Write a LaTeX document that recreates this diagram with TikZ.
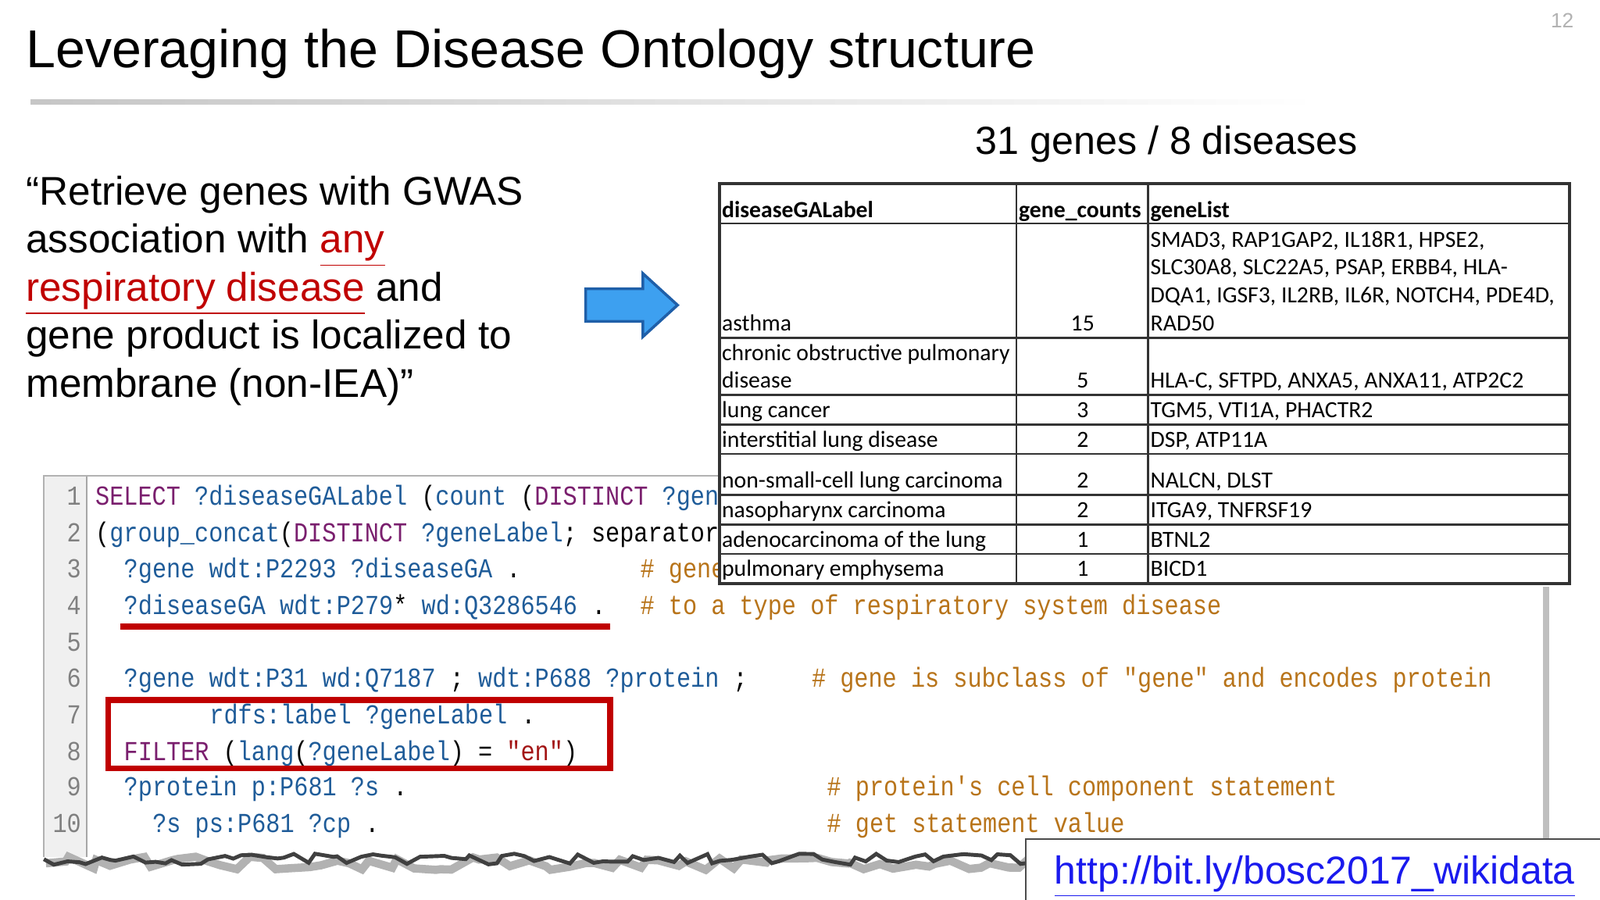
\documentclass[tikz,border=0pt]{standalone}
\usepackage{fontspec}
\setmainfont{Liberation Sans}
\newfontfamily\cdfont[FakeStretch=0.86]{Liberation Mono}
\newfontfamily\tbfont{Carlito}
\usetikzlibrary{decorations.pathmorphing}
\definecolor{kw}{HTML}{7A1F6E}
\definecolor{vr}{HTML}{1F5C99}
\definecolor{cm}{HTML}{B8741A}
\definecolor{st}{HTML}{A31515}
\definecolor{rd}{HTML}{C00000}
\definecolor{url}{HTML}{1A1AEE}
\definecolor{arrf}{HTML}{3DA0F0}
\definecolor{arrd}{HTML}{1F5FA8}
\newcommand{\K}[1]{\textcolor{kw}{#1}}
\newcommand{\V}[1]{\textcolor{vr}{#1}}
\newcommand{\C}[1]{\textcolor{cm}{#1}}
\tikzset{
  x=0.01306cm, y=-0.01306cm,
  quote/.style={anchor=base west, inner sep=0, font=\fontsize{14.6}{18}\selectfont},
  code/.style={anchor=base west, inner sep=0, font=\cdfont\fontsize{10}{12}\selectfont, text=vr},
  lnum/.style={anchor=base east, inner sep=0, font=\cdfont\fontsize{10}{12}\selectfont, text=gray},
  cell/.style={anchor=base west, inner sep=0, font=\tbfont\fontsize{8.45}{10}\selectfont},
  num/.style={anchor=base, inner sep=0, font=\tbfont\fontsize{8.45}{10}\selectfont},
  tline/.style={line width=0.7pt, black!80},
}
\begin{document}
\begin{tikzpicture}
\useasboundingbox (0,0) rectangle (1568,882);
\fill[white] (0,0) rectangle (1568,882);
% title
\node[anchor=base west, inner sep=0, font=\fontsize{19.4}{23}\selectfont] (title) at (25,66) {Leveraging the Disease Ontology structure};
\shade[left color=gray!45, right color=white] (30,98) rectangle (1290,102);
\node[anchor=base, inner sep=0, font=\fontsize{7.5}{9}\selectfont, text=gray!60] (pg) at (1531,27) {12};
\node[anchor=base, inner sep=0, font=\fontsize{14.3}{17}\selectfont] (sub) at (1143,151) {31 genes / 8 diseases};
% quote
\node[quote] (q1) at (25,201) {“Retrieve genes with GWAS};
\node[quote] (q2) at (25,248) {association with \textcolor{rd}{\underline{any}}};
\node[quote] (q3) at (25,295) {\textcolor{rd}{\underline{respiratory disease}} and};
\node[quote] (q4) at (25,342) {gene product is localized to};
\node[quote] (q5) at (25,389) {membrane (non-IEA)”};
% arrow
\draw[arrd, line width=1pt, fill=arrf] (574,283)--(630,283)--(630,268)--(664,299)--(630,330)--(630,315)--(574,315)--cycle;
% code box
\fill[gray!50] (1512,575) rectangle (1518,822);
\fill[white] (43,466) rectangle (1512,840);
\fill[gray!12] (44,467) rectangle (85,840);
\draw[gray!60, line width=0.6pt] (43,840)--(43,466)--(1512,466);
\draw[gray!70, line width=0.6pt] (85,467)--(85,840);
\foreach \n/\yy in {1/495,2/531,3/566,4/602,5/638,6/673,7/709,8/745,9/780,10/816}{
  \node[lnum] (ln\n) at (80,\yy) {\n};
}
\node[code] (c1) at (93,495) {\K{SELECT} ?diseaseGALabel \textcolor{black}{(}count \textcolor{black}{(}\K{DISTINCT} ?gene};
\node[code] (c2) at (93,531) {\textcolor{black}{(}group\_concat\textcolor{black}{(}\K{DISTINCT} ?geneLabel\textcolor{black}{; separator}};
\node[code] (c3) at (121,566) {?gene wdt:P2293 ?diseaseGA \textcolor{black}{.}};
\node[code] (c3c) at (627,566) {\C{\# gene}};
\node[code] (c4) at (121,602) {?diseaseGA wdt:P279\textcolor{black}{*} wd:Q3286546 \textcolor{black}{.}};
\node[code] (c4c) at (627,602) {\C{\# to a type of respiratory system disease}};
\node[code] (c6) at (121,673) {?gene wdt:P31 wd:Q7187 \textcolor{black}{;} wdt:P688 ?protein \textcolor{black}{;}};
\node[code] (c6c) at (795,673) {\C{\# gene is subclass of "gene" and encodes protein}};
\node[code] (c7) at (205,709) {rdfs:label ?geneLabel \textcolor{black}{.}};
\node[code] (c8) at (121,745) {\K{FILTER} \textcolor{black}{(}lang\textcolor{black}{(}?geneLabel\textcolor{black}{) = }\textcolor{st}{"en"}\textcolor{black}{)}};
\node[code] (c9) at (121,780) {?protein p:P681 ?s \textcolor{black}{.}};
\node[code] (c9c) at (810,780) {\C{\# protein's cell component statement}};
\node[code] (c10) at (149,816) {?s ps:P681 ?cp \textcolor{black}{.}};
\node[code] (c10c) at (810,816) {\C{\# get statement value}};
% torn edge
\fill[white] (40,842) rectangle (1520,882);
\draw[gray!60, line width=3pt, decorate, decoration={random steps, segment length=5, amplitude=2.5}] (45,846)--(1512,846);
\draw[black!75, line width=1.4pt, decorate, decoration={random steps, segment length=4, amplitude=2}] (43,842)--(1512,842);
% red marks
\draw[rd, line width=2.2pt] (118,614)--(598,614);
\draw[rd, line width=2.2pt] (106,686) rectangle (598,753);
% table
\fill[white] (705,180) rectangle (1538,572);
\draw[tline, line width=1pt] (705,180) rectangle (1538,572);
\draw[tline] (996,180)--(996,572) (1125,180)--(1125,572);
\foreach \yy in {219,331,387,416,445,485,514,543}{ \draw[tline] (705,\yy)--(1538,\yy); }
\node[cell, font=\tbfont\bfseries\fontsize{8.45}{10}\selectfont] (h1) at (707,213) {diseaseGALabel};
\node[cell, font=\tbfont\bfseries\fontsize{8.45}{10}\selectfont] (h2) at (998,213) {gene\_counts};
\node[cell, font=\tbfont\bfseries\fontsize{8.45}{10}\selectfont] (h3) at (1127,213) {geneList};
\node[cell] (g1a) at (1127,242) {SMAD3, RAP1GAP2, IL18R1, HPSE2,};
\node[cell] (g1b) at (1127,269) {SLC30A8, SLC22A5, PSAP, ERBB4, HLA-};
\node[cell] (g1c) at (1127,297) {DQA1, IGSF3, IL2RB, IL6R, NOTCH4, PDE4D,};
\node[cell] (g1d) at (1127,324) {RAD50};
\node[cell] (d1) at (707,324) {asthma};
\node[num] (n1) at (1061,324) {15};
\node[cell] (d2a) at (707,353) {chronic obstructive pulmonary};
\node[cell] (d2) at (707,380) {disease};
\node[num] (n2) at (1061,380) {5};
\node[cell] (g2) at (1127,380) {HLA-C, SFTPD, ANXA5, ANXA11, ATP2C2};
\foreach \nm/\yy/\d/\c/\g in {3/409/lung cancer/3/{TGM5, VTI1A, PHACTR2},
  4/438/interstitial lung disease/2/{DSP, ATP11A},
  5/478/non-small-cell lung carcinoma/2/{NALCN, DLST},
  6/507/nasopharynx carcinoma/2/{ITGA9, TNFRSF19},
  7/536/adenocarcinoma of the lung/1/BTNL2,
  8/565/pulmonary emphysema/1/BICD1}{
  \node[cell] (d\nm) at (707,\yy) {\d};
  \node[num] (n\nm) at (1061,\yy) {\c};
  \node[cell] (g\nm) at (1127,\yy) {\g};
}
% url box
\draw[black!70, line width=0.6pt, fill=white] (1005,822) rectangle (1570,884);
\node[anchor=base west, inner sep=0, font=\fontsize{14.2}{18}\selectfont, text=url] (link) at (1033,866) {\underline{http://bit.ly/bosc2017\_wikidata}};
\end{tikzpicture}
\end{document}
